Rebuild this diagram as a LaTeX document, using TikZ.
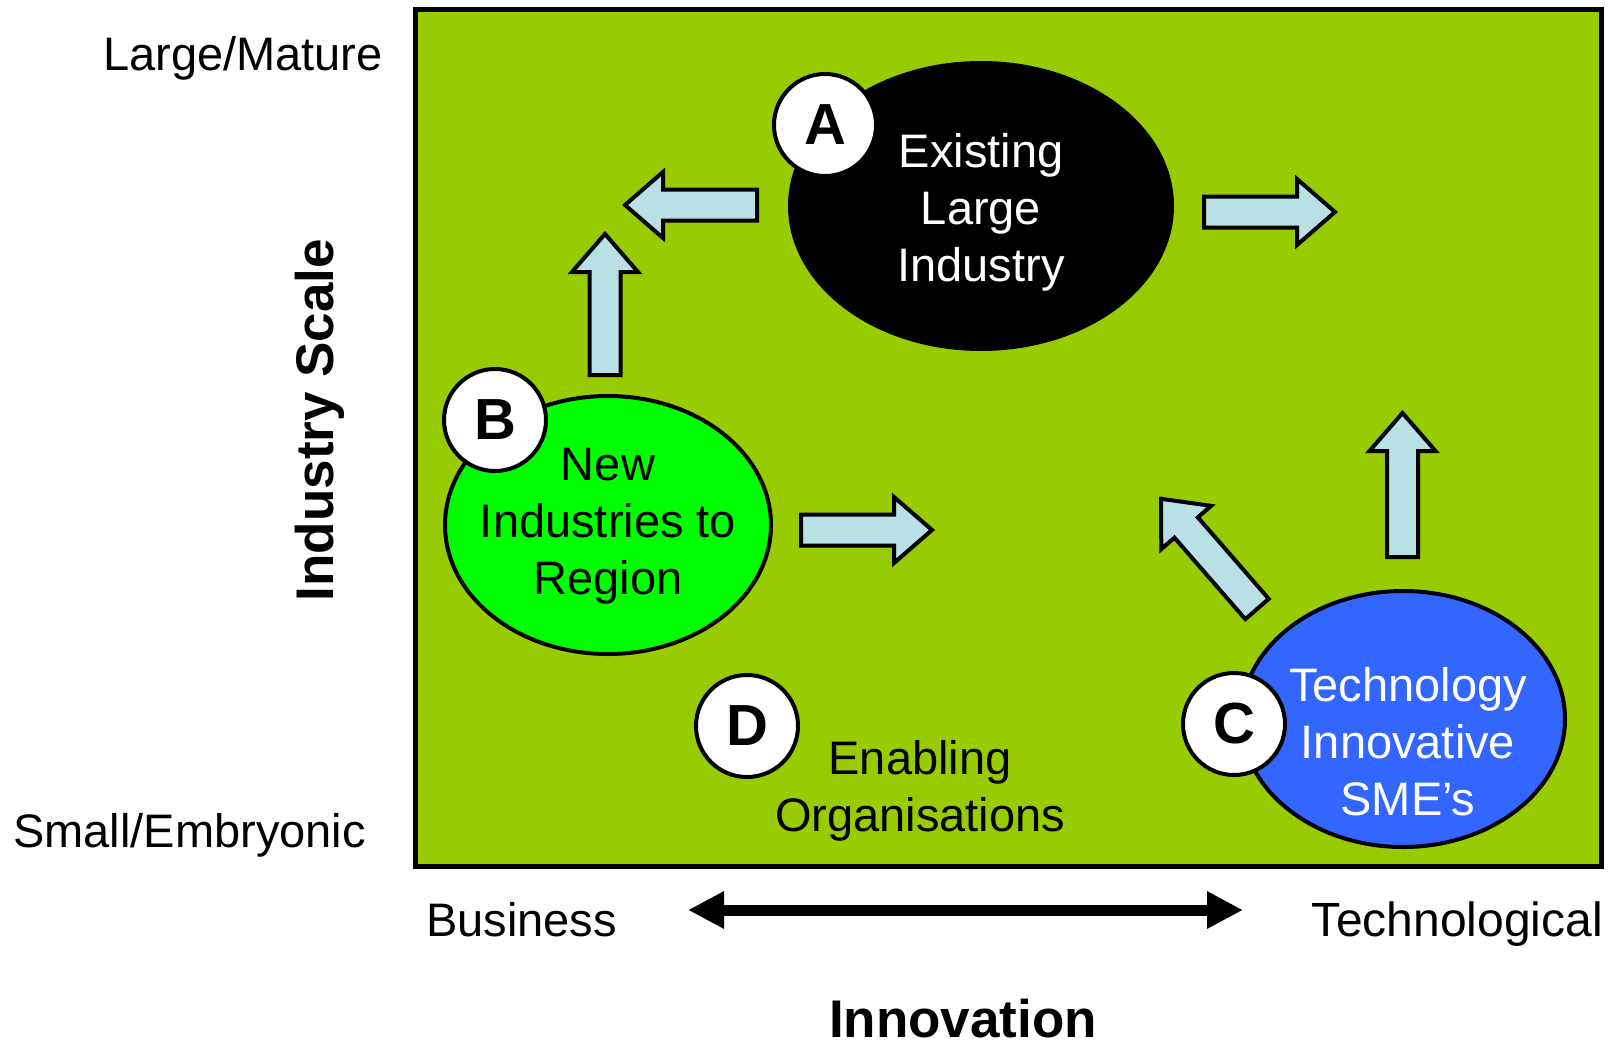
\documentclass[tikz,border=0pt]{standalone}
\usepackage{fontspec}
\setmainfont{Liberation Sans}
\usetikzlibrary{arrows.meta,shapes.geometric}
\definecolor{bggreen}{HTML}{99CC00}
\definecolor{bgreen}{HTML}{00FF00}
\definecolor{cblue}{HTML}{3366FF}
\definecolor{arrowblue}{HTML}{B9E0E4}
\tikzset{
  reg/.style={font=\fontsize{47bp}{57bp}\selectfont, align=center, inner sep=0pt},
  boldlbl/.style={font=\fontsize{53bp}{60bp}\selectfont\bfseries, inner sep=0pt},
  lettercirc/.style={circle, draw=black, line width=4bp, fill=white, minimum size=102bp,
    inner sep=0pt, font=\fontsize{58bp}{58bp}\selectfont\bfseries},
  region/.style={ellipse, draw=black, line width=4bp, inner sep=0pt},
  pics/barrow/.style={code={
    \draw[line width=4bp, fill=arrowblue, line join=miter, miter limit=10]
      (0,-15.5) -- ({#1-38},-15.5) -- ({#1-38},-33) -- (#1,0) -- ({#1-38},33)
      -- ({#1-38},15.5) -- (0,15.5) -- cycle;}}
}
\begin{document}
\begin{tikzpicture}[x=1bp,y=-1bp]
\useasboundingbox (0,0) rectangle (1608,1045);
% background panel
\draw[line width=5bp, fill=bggreen] (415,9) rectangle (1601,866);

% regions
\node[region, fill=black, minimum width=382bp, minimum height=286bp] (A) at (981,206) {};
\node[region, fill=bgreen, minimum width=326bp, minimum height=258bp] (B) at (608,525) {};
\node[region, fill=cblue, minimum width=324bp, minimum height=256bp] (C) at (1403,719) {};

% region texts (anchored at the baseline of their last line)
\node[reg, text=white, anchor=base] (tA) at (981,281) {Existing\\Large\\Industry};
\node[reg, anchor=base] (tB) at (608,594) {New\\Industries to\\Region};
\node[reg, text=white, anchor=base] (tC) at (1408,815) {Technology\\Innovative\\SME’s};
\node[reg, anchor=base] (tD) at (920,831) {Enabling\\Organisations};

% letter circles
\node[lettercirc] (la) at (825,125) {A};
\node[lettercirc] (lb) at (495,420) {B};
\node[lettercirc] (lc) at (1234,724) {C};
\node[lettercirc] (ld) at (747,726) {D};

% block arrows
\pic[rotate=180] at (757,205) {barrow=132};
\pic[rotate=90] at (605,375) {barrow=141};
\pic at (1204,212) {barrow=131};
\pic at (801,530) {barrow=131};
\pic[rotate=90] at (1402.5,557) {barrow=144};
\pic[rotate=131] at (1257,609) {barrow=146};

% axis labels
\node[reg, anchor=base west] (large) at (103,70) {Large/Mature};
\node[reg, anchor=base west] (small) at (13,847) {Small/Embryonic};
\node[reg, anchor=base west] (bus) at (426,936) {Business};
\node[reg, anchor=base east, font=\fontsize{48bp}{57bp}\selectfont] (tech) at (1603,936) {Technological};
\node[boldlbl, rotate=90] (scale) at (320,420) {Industry Scale};
\node[boldlbl, anchor=base] (innov) at (963,1037) {Innovation};

\coordinate (arrL) at (688,910);
\coordinate (arrR) at (1243,910);
\draw[line width=11bp, {Triangle[length=36bp,width=35bp]}-{Triangle[length=36bp,width=35bp]}] (arrL) -- (arrR);
\end{tikzpicture}
\end{document}
